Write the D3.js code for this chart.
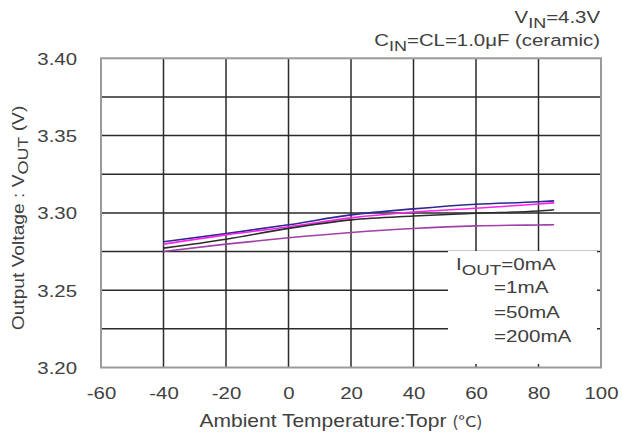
<!DOCTYPE html>
<html>
<head>
<meta charset="utf-8">
<script src="https://cdn.jsdelivr.net/npm/d3@7"></script>
<style>
  html, body { margin: 0; padding: 0; background: #fff; }
  svg { display: block; }
  text { font-family: "Liberation Sans", Arial, sans-serif; fill: #404040; }
</style>
</head>
<body>
<svg id="chart" width="622" height="438"></svg>
<script>
// ---- data ----
const temps = [-40, -20, 0, 20, 40, 60, 80, 85];
const iout0   = [3.2813, 3.2866, 3.2923, 3.2987, 3.3026, 3.3056, 3.3072, 3.3078];
const iout1   = [3.2798, 3.2858, 3.2910, 3.2968, 3.3006, 3.3030, 3.3058, 3.3065];
const iout50  = [3.2772, 3.2830, 3.2900, 3.2955, 3.2980, 3.2998, 3.3012, 3.3020];
const iout200 = [3.2750, 3.2798, 3.2839, 3.2873, 3.2899, 3.2916, 3.2922, 3.2923];
const seriesNames = ["=0mA", "=1mA", "=50mA", "=200mA"];
const xTicks = [-60, -40, -20, 0, 20, 40, 60, 80, 100];
const yTicks = [3.20, 3.25, 3.30, 3.35, 3.40];
const yGrid = [3.225, 3.25, 3.275, 3.30, 3.325, 3.35, 3.375];
const xGrid = [-40, -20, 0, 20, 40, 60, 80];

const SX = 1.2; // horizontal text stretch to match the wide lettering
const svg = d3.select("#chart");
const x = d3.scaleLinear().domain([-60, 100]).range([101, 601]);
const y = d3.scaleLinear().domain([3.20, 3.40]).range([367.5, 58.3]);

// grid
svg.append("g").selectAll("line").data(xGrid).join("line")
  .attr("x1", d => x(d)).attr("x2", d => x(d))
  .attr("y1", y(3.40)).attr("y2", y(3.20))
  .attr("stroke", "#2a2a2a").attr("stroke-width", 1.5);
svg.append("g").selectAll("line").data(yGrid).join("line")
  .attr("x1", x(-60)).attr("x2", x(100))
  .attr("y1", d => y(d)).attr("y2", d => y(d))
  .attr("stroke", "#2a2a2a").attr("stroke-width", 1.5);

// curves
const series = [
  {vals: iout0, color: "#2a2a90"},
  {vals: iout1, color: "#ff22ee"},
  {vals: iout50, color: "#2b2b2b"},
  {vals: iout200, color: "#a040a8"}
];
const line = d3.line().x(d => x(d[0])).y(d => y(d[1])).curve(d3.curveMonotoneX);
series.forEach(s => {
  svg.append("path")
    .attr("d", line(temps.map((t, i) => [t, s.vals[i]])))
    .attr("fill", "none").attr("stroke", s.color).attr("stroke-width", 1.6);
});

// legend box (white, covers grid)
svg.append("rect").attr("x", 448).attr("y", 251).attr("width", 149).attr("height", 113)
  .attr("fill", "#fff");

// plot border
svg.append("rect").attr("x", x(-60)).attr("y", y(3.40))
  .attr("width", x(100) - x(-60)).attr("height", y(3.20) - y(3.40))
  .attr("fill", "none").attr("stroke", "#9a9a9a").attr("stroke-width", 2);

// axes (labels only)
const xAxis = svg.append("g").attr("transform", `translate(0,${y(3.20)})`)
  .call(d3.axisBottom(x).tickValues(xTicks).tickSize(0).tickFormat(d => String(d)));
xAxis.select(".domain").remove();
xAxis.selectAll("text").attr("y", 31.5).attr("dy", 0)
  .attr("transform", `scale(${SX},1)`)
  .style("font-size", "17px").style("font-family", "Liberation Sans, Arial, sans-serif").attr("fill", "#404040");

const yAxis = svg.append("g").attr("transform", `translate(${x(-60)},0)`)
  .call(d3.axisLeft(y).tickValues(yTicks).tickSize(0).tickFormat(d3.format(".2f")));
yAxis.select(".domain").remove();
yAxis.selectAll("text").attr("x", -20).attr("dy", "0.35em")
  .attr("transform", `scale(${SX},1)`)
  .style("font-size", "17px").style("font-family", "Liberation Sans, Arial, sans-serif").attr("fill", "#404040");

// helper for stretched text
function stretched(px, py, anchor, size, sx) {
  return svg.append("text")
    .attr("transform", `translate(${px},${py}) scale(${sx || SX},1)`)
    .attr("text-anchor", anchor).style("font-size", size + "px");
}

// x axis title
const xt = stretched(341, 427, "middle", 17.5);
xt.append("tspan").text("Ambient Temperature:Topr ");
xt.append("tspan").style("font-family", "Noto Sans CJK JP").style("font-size", "15px").text("(°C)");

// y axis title
const yt = svg.append("text")
  .attr("transform", `translate(24,218) rotate(-90) scale(${SX},1)`)
  .attr("text-anchor", "middle").style("font-size", "16px");
yt.append("tspan").text("Output Voltage : V");
yt.append("tspan").attr("dy", 4).style("font-size", "15px").text("OUT");
yt.append("tspan").attr("dy", -4).text(" (V)");

// conditions
const c1 = stretched(600, 23, "end", 17);
c1.append("tspan").text("V");
c1.append("tspan").attr("dy", 5).style("font-size", "15px").text("IN");
c1.append("tspan").attr("dy", -5).text("=4.3V");
const c2 = stretched(600, 46, "end", 17);
c2.append("tspan").text("C");
c2.append("tspan").attr("dy", 5).style("font-size", "15px").text("IN");
c2.append("tspan").attr("dy", -5).text("=CL=1.0μF (ceramic)");

// legend text
const l0 = stretched(456, 270, "start", 16.5, 1.25);
l0.append("tspan").text("I");
l0.append("tspan").attr("dy", 5).style("font-size", "15px").text("OUT");
l0.append("tspan").attr("dy", -5).text(seriesNames[0]);
seriesNames.slice(1).forEach((n, i) => {
  stretched(494, 293 + i * 24.5, "start", 16.5, 1.25).text(n);
});
</script>
</body>
</html>
